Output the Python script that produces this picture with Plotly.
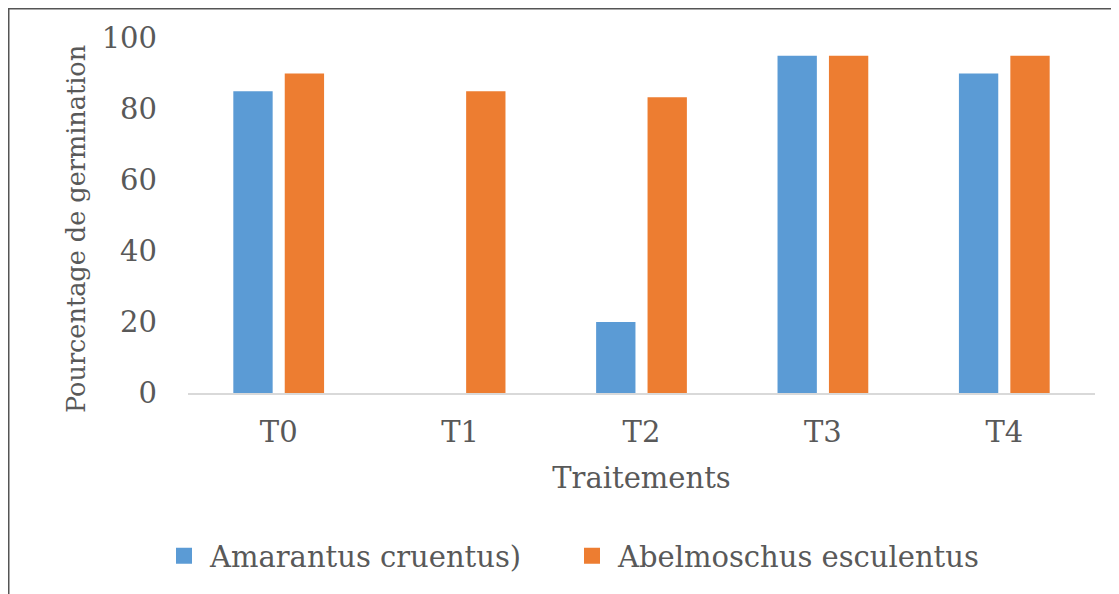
import plotly.graph_objects as go

categories = ["T0", "T1", "T2", "T3", "T4"]
amarantus = [85, 0, 20, 95, 90]
abelmoschus = [90, 85, 83.3, 95, 95]
series_names = ["Amarantus cruentus)", "Abelmoschus esculentus"]
colors = ["#5B9BD5", "#ED7D31"]
y_ticks = [0, 20, 40, 60, 80, 100]
y_title = "Pourcentage de germination"
x_title = "Traitements"

FONT = "DejaVu Serif"
GRAY = "#595959"
FS = 29

fig = go.Figure()
for name, vals, col in zip(series_names, [amarantus, abelmoschus], colors):
    fig.add_trace(go.Bar(x=categories, y=vals, name=name, marker=dict(color=col, line=dict(width=0)),
                         showlegend=False))

# page has an 8px body margin; figure coords = screenshot coords - 8
OFF = 8
W, H = 1119 - OFF, 594 - OFF
L, R, T, B = 188 - OFF, 1119 - 1095, 38 - OFF, 594 - 393
pw, ph = W - L - R, H - T - B

def px2x(px):
    return (px - OFF - L) / pw

def py2y(py):
    return (H - B - (py - OFF)) / ph

# legend proxies (larger square symbols), one legend each for precise placement
legend_ids = ["legend", "legend2"]
legend_x = [158, 566]
for name, col, lid in zip(series_names, colors, legend_ids):
    fig.add_trace(go.Scatter(x=[None], y=[None], mode="markers", name=name, legend=lid,
                             marker=dict(symbol="square", size=16, color=col)))

def legend_cfg(xpx):
    return dict(orientation="h", x=px2x(xpx), xanchor="left", y=py2y(556), yanchor="middle",
                font=dict(size=FS, family=FONT, color=GRAY), itemsizing="trace", itemwidth=42,
                bgcolor="rgba(0,0,0,0)")

fig.update_layout(
    width=W, height=H,
    margin=dict(l=L, r=R, t=T, b=B, autoexpand=False),
    paper_bgcolor="white", plot_bgcolor="white",
    font=dict(family=FONT, color=GRAY, size=FS),
    barmode="group", bargap=0.433, bargroupgap=0.235,
    xaxis=dict(showline=True, linecolor="#D9D9D9", linewidth=1.5, ticks="",
               ticklabelstandoff=12,
               tickfont=dict(size=FS, family=FONT, color=GRAY),
               title=dict(text=x_title, font=dict(size=FS, family=FONT, color=GRAY), standoff=20)),
    yaxis=dict(range=[0, 100], tickvals=y_ticks, showgrid=False, zeroline=False, showline=False,
               ticks="", ticklabelstandoff=30,
               tickfont=dict(size=FS, family=FONT, color=GRAY)),
    legend=legend_cfg(legend_x[0]),
    legend2=legend_cfg(legend_x[1]),
    annotations=[
        dict(text=y_title, textangle=-90, xref="paper", yref="paper", x=px2x(76), y=py2y(229),
             xanchor="center", yanchor="middle", showarrow=False,
             font=dict(size=25.5, family=FONT, color=GRAY)),
    ],
    shapes=[
        dict(type="line", xref="paper", yref="paper", x0=px2x(8.75), x1=px2x(8.75), y0=py2y(7), y1=py2y(600),
             line=dict(color="#555555", width=1.5)),
        dict(type="line", xref="paper", yref="paper", x0=px2x(8), x1=px2x(1125), y0=py2y(8.75), y1=py2y(8.75),
             line=dict(color="#555555", width=1.5)),
    ],
)

fig.write_html("out.html")
